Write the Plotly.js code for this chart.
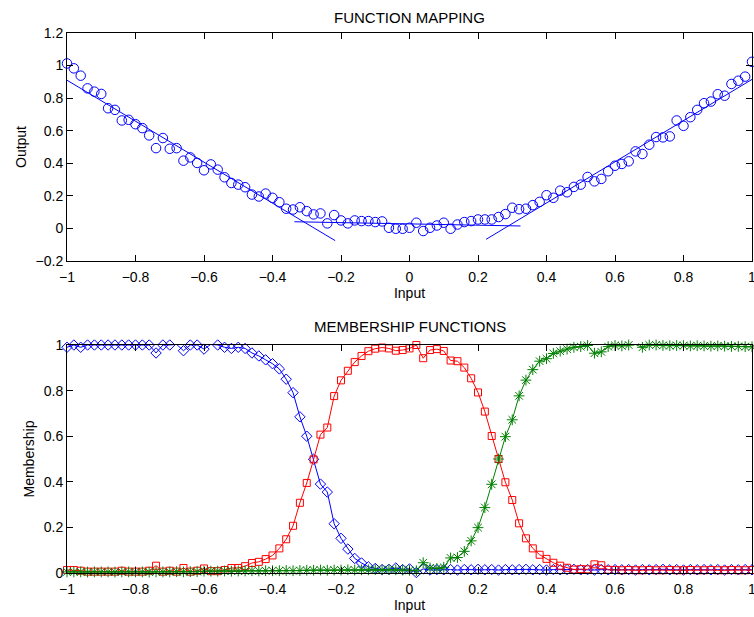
<!DOCTYPE html>
<html>
<head>
<meta charset="utf-8">
<script src="https://cdn.plot.ly/plotly-3.0.1.min.js"></script>
<style>html,body{margin:0;padding:0;background:#fff;}#chart{width:754px;height:617px;}</style>
</head>
<body>
<div id="chart"></div>
<script>
// ---- DATA ----
const inputs = [-1.00,-0.98,-0.96,-0.94,-0.92,-0.90,-0.88,-0.86,-0.84,-0.82,-0.80,-0.78,-0.76,-0.74,-0.72,-0.70,-0.68,-0.66,-0.64,-0.62,-0.60,-0.58,-0.56,-0.54,-0.52,-0.50,-0.48,-0.46,-0.44,-0.42,-0.40,-0.38,-0.36,-0.34,-0.32,-0.30,-0.28,-0.26,-0.24,-0.22,-0.20,-0.18,-0.16,-0.14,-0.12,-0.10,-0.08,-0.06,-0.04,-0.02,0.00,0.02,0.04,0.06,0.08,0.10,0.12,0.14,0.16,0.18,0.20,0.22,0.24,0.26,0.28,0.30,0.32,0.34,0.36,0.38,0.40,0.42,0.44,0.46,0.48,0.50,0.52,0.54,0.56,0.58,0.60,0.62,0.64,0.66,0.68,0.70,0.72,0.74,0.76,0.78,0.80,0.82,0.84,0.86,0.88,0.90,0.92,0.94,0.96,0.98,1.00];

const outputs = [1.013,0.983,0.938,0.860,0.840,0.826,0.738,0.728,0.663,0.667,0.640,0.616,0.571,0.493,0.555,0.489,0.493,0.416,0.436,0.402,0.357,0.393,0.361,0.314,0.279,0.269,0.253,0.208,0.196,0.214,0.188,0.161,0.121,0.116,0.130,0.106,0.086,0.092,0.031,0.082,0.049,0.031,0.049,0.045,0.045,0.039,0.043,0.004,-0.002,-0.002,0.004,0.035,-0.016,0.004,0.018,0.035,-0.002,0.024,0.039,0.045,0.055,0.055,0.055,0.070,0.088,0.127,0.118,0.121,0.143,0.163,0.204,0.188,0.232,0.222,0.255,0.269,0.316,0.289,0.304,0.351,0.385,0.396,0.412,0.473,0.457,0.514,0.561,0.559,0.565,0.663,0.630,0.683,0.728,0.769,0.779,0.824,0.815,0.887,0.907,0.932,1.023];

// local linear fits (end points)
const fitLeftX = [-1.0, -0.217];
const fitLeftY = [0.910, -0.075];
const fitMidX = [-0.336, 0.324];
const fitMidY = [0.041, 0.015];
const fitRightX = [0.2236, 1.0];
const fitRightY = [-0.067, 0.915];

const memNeg = [0.990,1.000,0.990,1.000,1.000,1.000,1.000,1.000,1.000,1.000,1.000,1.000,1.000,0.965,1.000,1.000,1.003,0.975,1.000,1.000,0.982,1.003,1.000,0.990,0.985,0.990,0.985,0.965,0.952,0.935,0.918,0.895,0.850,0.791,0.685,0.600,0.499,0.390,0.355,0.216,0.152,0.105,0.064,0.044,0.027,0.020,0.015,0.016,0.022,0.015,0.018,0.002,0.018,0.013,0.015,0.014,0.015,0.013,0.015,0.014,0.016,0.014,0.015,0.013,0.015,0.014,0.015,0.016,0.014,0.015,0.013,0.015,0.014,0.015,0.016,0.014,0.015,0.013,0.015,0.014,0.015,0.014,0.015,0.013,0.015,0.014,0.015,0.016,0.014,0.015,0.013,0.015,0.014,0.015,0.014,0.015,0.013,0.015,0.014,0.015,0.014];

const memZero = [0.013,0.013,0.010,0.006,0.006,0.006,0.006,0.006,0.010,0.006,0.006,0.006,0.010,0.032,0.006,0.010,0.006,0.022,0.006,0.010,0.020,0.008,0.008,0.013,0.022,0.022,0.030,0.044,0.049,0.061,0.077,0.108,0.148,0.207,0.308,0.395,0.498,0.607,0.638,0.776,0.845,0.887,0.925,0.952,0.973,0.984,0.989,0.985,0.975,0.978,0.985,1.000,0.942,0.978,0.982,0.974,0.932,0.929,0.901,0.854,0.792,0.708,0.601,0.500,0.398,0.320,0.218,0.152,0.108,0.080,0.062,0.045,0.032,0.023,0.015,0.017,0.016,0.038,0.034,0.014,0.013,0.012,0.013,0.012,0.012,0.013,0.012,0.012,0.013,0.012,0.012,0.013,0.012,0.012,0.013,0.012,0.012,0.013,0.012,0.012,0.013];

const memPos = [0.005,0.005,0.005,0.004,0.005,0.005,0.005,0.004,0.005,0.005,0.005,0.005,0.004,0.005,0.005,0.005,0.006,0.005,0.006,0.006,0.008,0.008,0.008,0.009,0.008,0.009,0.009,0.010,0.009,0.010,0.010,0.010,0.011,0.010,0.011,0.012,0.012,0.013,0.012,0.013,0.013,0.014,0.013,0.014,0.014,0.015,0.014,0.015,0.014,0.013,0.012,0.010,0.045,0.022,0.020,0.025,0.066,0.068,0.095,0.141,0.199,0.287,0.389,0.500,0.598,0.672,0.777,0.846,0.892,0.929,0.940,0.963,0.973,0.982,0.990,0.993,0.998,0.964,0.970,0.993,0.998,0.996,1.000,1.002,0.990,1.000,1.000,0.998,0.997,0.998,0.997,0.996,0.997,0.996,0.995,0.996,0.995,0.994,0.994,0.993,0.992];

const xTicks = [-1,-0.8,-0.6,-0.4,-0.2,0,0.2,0.4,0.6,0.8,1];
const yTicksTop = [-0.2,0,0.2,0.4,0.6,0.8,1,1.2];
const yTicksBottom = [0,0.2,0.4,0.6,0.8,1];

// ---- STYLE ----
const FONT = '"Liberation Sans", Arial, Helvetica, sans-serif';
const BLUE = 'rgb(0,0,255)', RED = 'rgb(255,0,0)', GREEN = 'rgb(0,128,0)';

const traces = [
  {x: inputs, y: outputs, xaxis: 'x', yaxis: 'y', mode: 'markers', type: 'scatter', cliponaxis: false,
   marker: {symbol: 'circle-open', size: 9.5, color: BLUE, line: {width: 1, color: BLUE}}},
  {x: fitLeftX, y: fitLeftY, xaxis: 'x', yaxis: 'y', mode: 'lines', type: 'scatter', line: {color: BLUE, width: 1}},
  {x: fitMidX, y: fitMidY, xaxis: 'x', yaxis: 'y', mode: 'lines', type: 'scatter', line: {color: BLUE, width: 1}},
  {x: fitRightX, y: fitRightY, xaxis: 'x', yaxis: 'y', mode: 'lines', type: 'scatter', line: {color: BLUE, width: 1}},
  {x: inputs, y: memNeg, xaxis: 'x2', yaxis: 'y2', mode: 'lines+markers', type: 'scatter', cliponaxis: false,
   line: {color: BLUE, width: 1}, marker: {symbol: 'diamond-open', size: 8, color: BLUE, line: {width: 1, color: BLUE}}},
  {x: inputs, y: memZero, xaxis: 'x2', yaxis: 'y2', mode: 'lines+markers', type: 'scatter', cliponaxis: false,
   line: {color: RED, width: 1}, marker: {symbol: 'square-open', size: 7, color: RED, line: {width: 1, color: RED}}},
  {x: inputs, y: memPos, xaxis: 'x2', yaxis: 'y2', mode: 'lines+markers', type: 'scatter', cliponaxis: false,
   line: {color: GREEN, width: 1}, marker: {symbol: 'asterisk-open', size: 9, color: GREEN, line: {width: 1, color: GREEN}}}
];

function axisBase(extra) {
  return Object.assign({
    showline: true, linecolor: 'black', linewidth: 1, mirror: 'allticks',
    ticks: 'inside', ticklen: 6, tickwidth: 1, tickcolor: 'black',
    showgrid: false, zeroline: false, ticklabeloverflow: 'allow',
    tickfont: {family: FONT, size: 14, color: 'black'}
  }, extra);
}

const layout = {
  width: 754, height: 617,
  margin: {l: 67, r: 2, t: 33, b: 44},
  paper_bgcolor: 'white', plot_bgcolor: 'white',
  showlegend: false,
  font: {family: FONT, size: 14, color: 'black'},
  xaxis: axisBase({domain: [0, 1], anchor: 'y', range: [-1, 1], tickvals: xTicks, ticklabelstandoff: 3,
    title: {text: 'Input', font: {family: FONT, size: 14, color: 'black'}, standoff: 3}}),
  yaxis: axisBase({domain: [0.5778, 1], anchor: 'x', range: [-0.2, 1.2], tickvals: yTicksTop,
    title: {text: 'Output', font: {family: FONT, size: 14, color: 'black'}, standoff: 5}}),
  xaxis2: axisBase({domain: [0, 1], anchor: 'y2', range: [-1, 1], tickvals: xTicks, ticklabelstandoff: 3,
    title: {text: 'Input', font: {family: FONT, size: 14, color: 'black'}, standoff: 3}}),
  yaxis2: axisBase({domain: [0, 0.4222], anchor: 'x2', range: [0, 1], tickvals: yTicksBottom,
    title: {text: 'Membership', font: {family: FONT, size: 14, color: 'black'}, standoff: 5}}),
  annotations: [
    {text: 'FUNCTION MAPPING', xref: 'paper', yref: 'paper', x: 0.5, y: 1.0296, xanchor: 'center', yanchor: 'middle',
     showarrow: false, font: {family: FONT, size: 15, color: 'black'}},
    {text: 'MEMBERSHIP FUNCTIONS', xref: 'paper', yref: 'paper', x: 0.5, y: 0.4556, xanchor: 'center', yanchor: 'middle',
     showarrow: false, font: {family: FONT, size: 15, color: 'black'}}
  ]
};

Plotly.newPlot('chart', traces, layout, {staticPlot: true, displayModeBar: false});
</script>
</body>
</html>
